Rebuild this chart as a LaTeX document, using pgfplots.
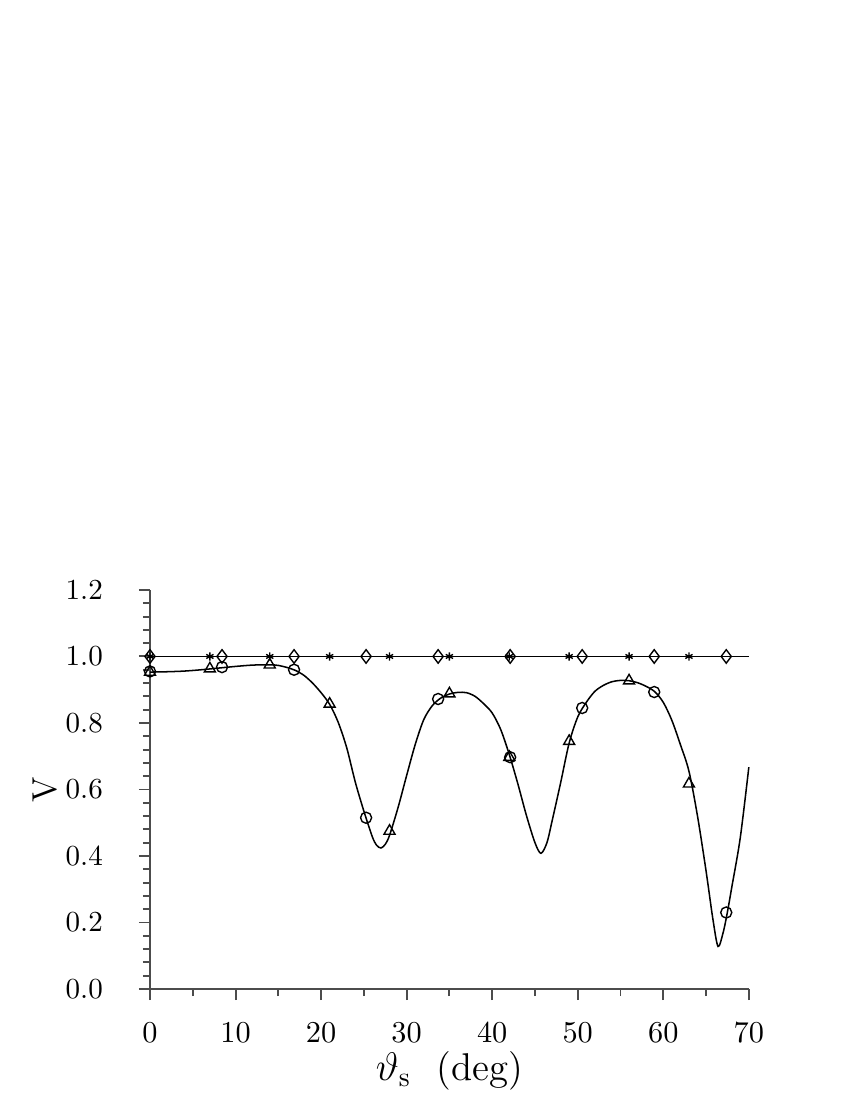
\documentclass[border=0pt]{standalone}
\usepackage{pgfplots}
\pgfplotsset{compat=1.18}
\begin{document}
\begin{tikzpicture}
\path[use as bounding box] (0,0) rectangle (307.15pt,397.49pt);
\begin{axis}[
  at={(54.2pt,40.11pt)}, anchor=south west,
  scale only axis, width=216.4pt, height=144.2pt,
  xmin=0, xmax=70, ymin=0, ymax=1.2,
  axis x line=bottom, axis y line=left,
  axis line style={draw=black!70, line width=0.8pt, -},
  every tick/.style={draw=black!70, line width=0.7pt},
  tick align=outside,
  major tick length=4pt, minor tick length=2.6pt,
  xtick={0,10,...,70}, minor xtick={5,15,...,65},
  ytick={0,0.2,...,1.2}, minor ytick={0.04,0.08,...,1.18},
  yticklabels={0.0,0.2,0.4,0.6,0.8,1.0,1.2},
  xticklabel style={font=\fontsize{10.5}{12}\selectfont, anchor=north, yshift=-4.7pt},
  yticklabel style={font=\fontsize{10.5}{12}\selectfont, anchor=east, xshift=-9.5pt},
  xlabel={$\vartheta_{\mathrm{s}}$\ \ (deg)},
  ylabel={V},
  xlabel style={font=\fontsize{14}{16}\selectfont, at={(axis description cs:0.5,0)}, anchor=center, yshift=-29.5pt},
  ylabel style={font=\fontsize{12.5}{15}\selectfont, at={(axis description cs:0,0.5)}, anchor=center, yshift=38pt},
  clip=false,
]
\addplot[black, line width=0.55pt] coordinates {(0,1) (70,1)};
\addplot[black, line width=0.55pt, smooth, tension=0.5] coordinates {
(0,0.953) (2,0.954) (4,0.956) (6,0.960) (8,0.965) (10,0.970) (12,0.974) (14,0.975)
(15,0.973) (16,0.967) (17,0.958) (18,0.943) (19,0.920) (20,0.891) (21,0.856)
(22,0.802) (23,0.725) (24,0.622) (25,0.535) (26,0.457) (26.5,0.432) (27,0.424)
(27.5,0.435) (28,0.462) (29,0.546) (30,0.642) (31,0.735) (32,0.810) (33,0.852)
(34,0.875) (35,0.887) (36,0.892) (37,0.891) (38,0.880) (39,0.858) (40,0.830)
(41,0.780) (42,0.705) (43,0.617) (44,0.522) (45,0.440) (45.7,0.408) (46.4,0.440)
(47,0.505) (48,0.620) (49,0.740) (50,0.818) (51,0.862) (52,0.895) (53,0.913)
(54,0.924) (55,0.928) (56,0.927) (57,0.921) (58,0.910) (59,0.894) (60,0.862)
(61,0.808) (62,0.735) (63,0.655) (64,0.520) (65,0.355) (65.8,0.210) (66.4,0.128)
(67,0.170) (67.5,0.232) (68,0.305) (69,0.455) (70,0.667)};
% asterisks
\addplot[only marks, mark=asterisk, mark size=1.5pt, mark options={line width=0.5pt}] coordinates {
(0,1) (7,1) (14,1) (21,1) (28,1) (35,1) (42,1) (49,1) (56,1) (63,1)};
% diamonds
\addplot[only marks, mark=diamond, mark size=2.45pt, mark options={line width=0.5pt}] coordinates {
(0,1) (8.42,1) (16.84,1) (25.26,1) (33.68,1) (42.1,1) (50.52,1) (58.94,1) (67.36,1)};
% circles
\addplot[only marks, mark=o, mark size=2.0pt, mark options={line width=0.5pt}] coordinates {
(0,0.955) (8.42,0.968) (16.84,0.960) (25.26,0.515) (33.68,0.872) (42.1,0.697)
(50.52,0.845) (58.94,0.893) (67.36,0.230)};
% triangles
\addplot[only marks, mark=triangle, mark size=2.3pt, mark options={line width=0.5pt}] coordinates {
(0,0.953) (7,0.963) (14,0.975) (21,0.857) (28,0.475) (35,0.888) (42,0.697)
(49,0.745) (56,0.927) (63,0.617)};
\end{axis}
\end{tikzpicture}
\end{document}
